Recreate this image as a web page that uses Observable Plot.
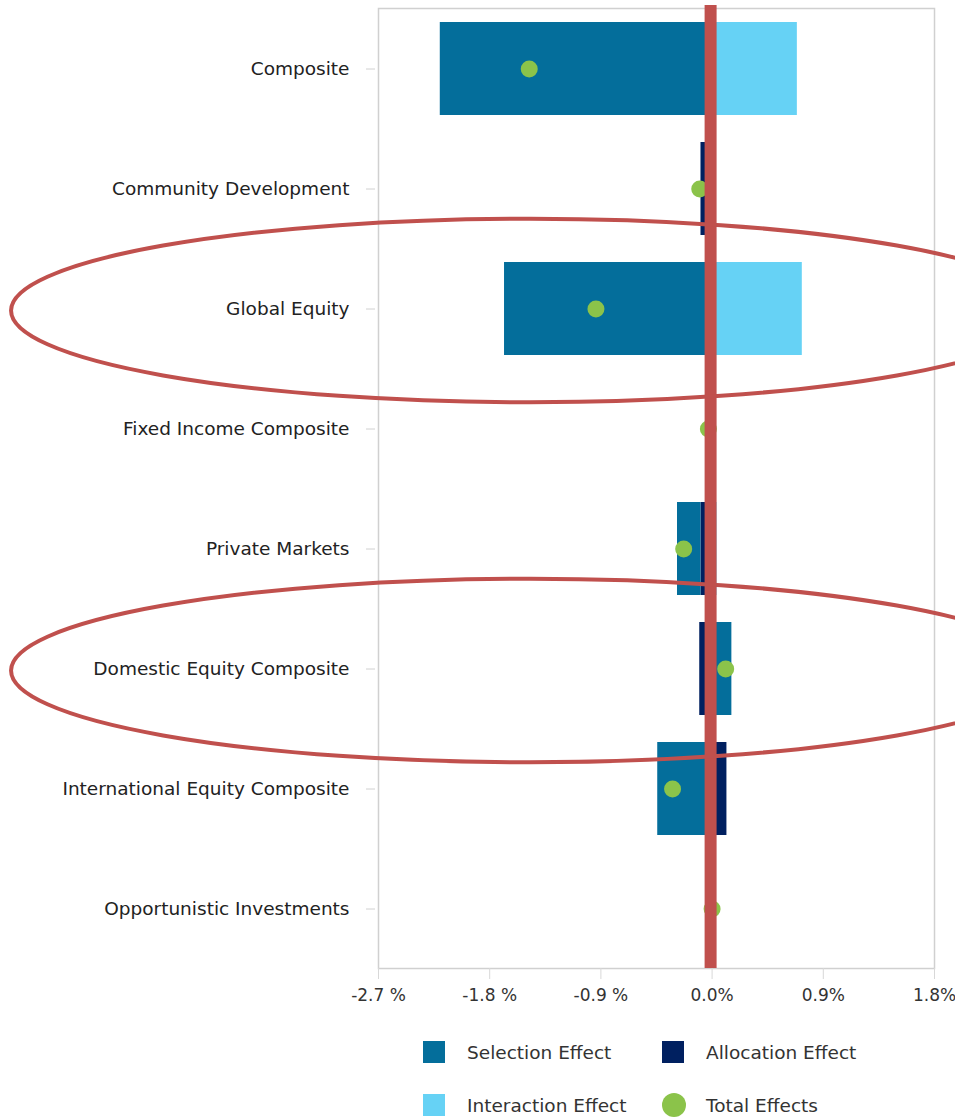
<!DOCTYPE html>
<html>
<head>
<meta charset="utf-8">
<script src="https://cdn.jsdelivr.net/npm/d3@7"></script>
<script src="https://cdn.jsdelivr.net/npm/@observablehq/plot@0.6"></script>
<style>
  html, body { margin: 0; padding: 0; background: #fff; }
  body { width: 955px; font-family: "DejaVu Sans", sans-serif; }
  #legend { position: relative; height: 95px; font-size: 18.5px; color: #333; }
  .item { position: absolute; display: flex; align-items: center; height: 26px; }
  .sw { width: 22px; height: 22px; margin-right: 22px; }
  .dot { width: 24px; height: 24px; border-radius: 50%; margin-right: 20px; }
</style>
</head>
<body>
<div id="chart"></div>
<div id="legend"></div>
<script>
const categories = [
  "Composite",
  "Community Development",
  "Global Equity",
  "Fixed Income Composite",
  "Private Markets",
  "Domestic Equity Composite",
  "International Equity Composite",
  "Opportunistic Investments"
];
const selectionEffect   = [-2.20,  0.00, -1.68,  0.00, -0.19,  0.16, -0.44, 0.00];
const allocationEffect  = [ 0.00, -0.09,  0.00, -0.01, -0.09, -0.10,  0.12, 0.00];
const interactionEffect = [ 0.69,  0.00,  0.73,  0.00,  0.04,  0.00,  0.00, 0.00];
const totalEffects      = [-1.48, -0.10, -0.94, -0.03, -0.23,  0.11, -0.32, 0.00];
const xTicks = [-2.7, -1.8, -0.9, 0.0, 0.9, 1.8];
const highlighted = ["Global Equity", "Domestic Equity Composite"];
const seriesNames = ["Selection Effect", "Allocation Effect", "Interaction Effect", "Total Effects"];
const seriesColors = ["#046e9b", "#002060", "#66d2f5", "#8bc34a"];

// stack order: nearest to zero first
const stackOrder = [
  ["Interaction Effect", interactionEffect],
  ["Allocation Effect", allocationEffect],
  ["Selection Effect", selectionEffect]
];
const barData = [];
for (const [name, vals] of stackOrder) {
  categories.forEach((c, i) => barData.push({category: c, series: name, value: vals[i]}));
}
const dotData = categories.map((c, i) => ({category: c, value: totalEffects[i]}));

const fmt = d => (d < 0 ? d.toFixed(1) + " %" : d.toFixed(1) + "%");

const ellipseMark = (index, scales) => {
  const g = d3.create("svg:g");
  const x = scales.x, y = scales.y;
  const bw = y.bandwidth ? y.bandwidth() : 0;
  const step = y.step ? y.step() : 120;
  const cx = x(-1.47);
  const rx = x(-1.47 + 4.2) - cx;
  for (const c of highlighted) {
    g.append("ellipse")
      .attr("cx", cx)
      .attr("cy", y(c) + bw / 2 + 2)
      .attr("rx", rx)
      .attr("ry", step * 0.765)
      .attr("fill", "none")
      .attr("stroke", "#c0504d")
      .attr("stroke-width", 4);
  }
  return g.node();
};

const chart = Plot.plot({
  width: 955,
  height: 1022,
  marginTop: 8,
  marginLeft: 378,
  marginRight: 21,
  marginBottom: 54,
  style: {fontFamily: "'DejaVu Sans', sans-serif", fontSize: "17px", color: "#333", overflow: "visible"},
  x: {domain: [-2.7, 1.8], label: null},
  y: {domain: categories, paddingInner: 0.225, paddingOuter: 0.1125, label: null},
  color: {domain: seriesNames, range: seriesColors},
  marks: [
    Plot.frame({stroke: "#d0d0d0", strokeWidth: 1.5}),
    Plot.axisX({ticks: xTicks, tickFormat: fmt, tickSize: 11, tickPadding: 9, stroke: "#d8d8d8", fill: "#333", fontSize: 17, label: null}),
    Plot.axisY({tickSize: 9, tickPadding: 17, dx: -3, stroke: "#d0d0d0", fill: "#222", fontSize: 18.5, label: null}),
    Plot.barX(barData, Plot.stackX({
      x: "value", y: "category", fill: "series", order: null
    })),
    Plot.dot(dotData, {x: "value", y: "category", r: 8.5, fill: "#8bc34a", stroke: null}),
    Plot.ruleX([0], {stroke: "#c0504d", strokeWidth: 12, insetTop: -3, dx: -1.5}),
    ellipseMark
  ]
});
document.getElementById("chart").appendChild(chart);

// legend
const legend = d3.select("#legend");
const pos = [
  {left: 423, top: 17},
  {left: 662, top: 17},
  {left: 423, top: 70},
  {left: 662, top: 70}
];
seriesNames.forEach((name, i) => {
  const item = legend.append("div").attr("class", "item")
    .style("left", pos[i].left + "px").style("top", pos[i].top + "px");
  item.append("div").attr("class", name === "Total Effects" ? "dot" : "sw")
    .style("background", seriesColors[i]);
  item.append("span").text(name);
});
</script>
</body>
</html>
